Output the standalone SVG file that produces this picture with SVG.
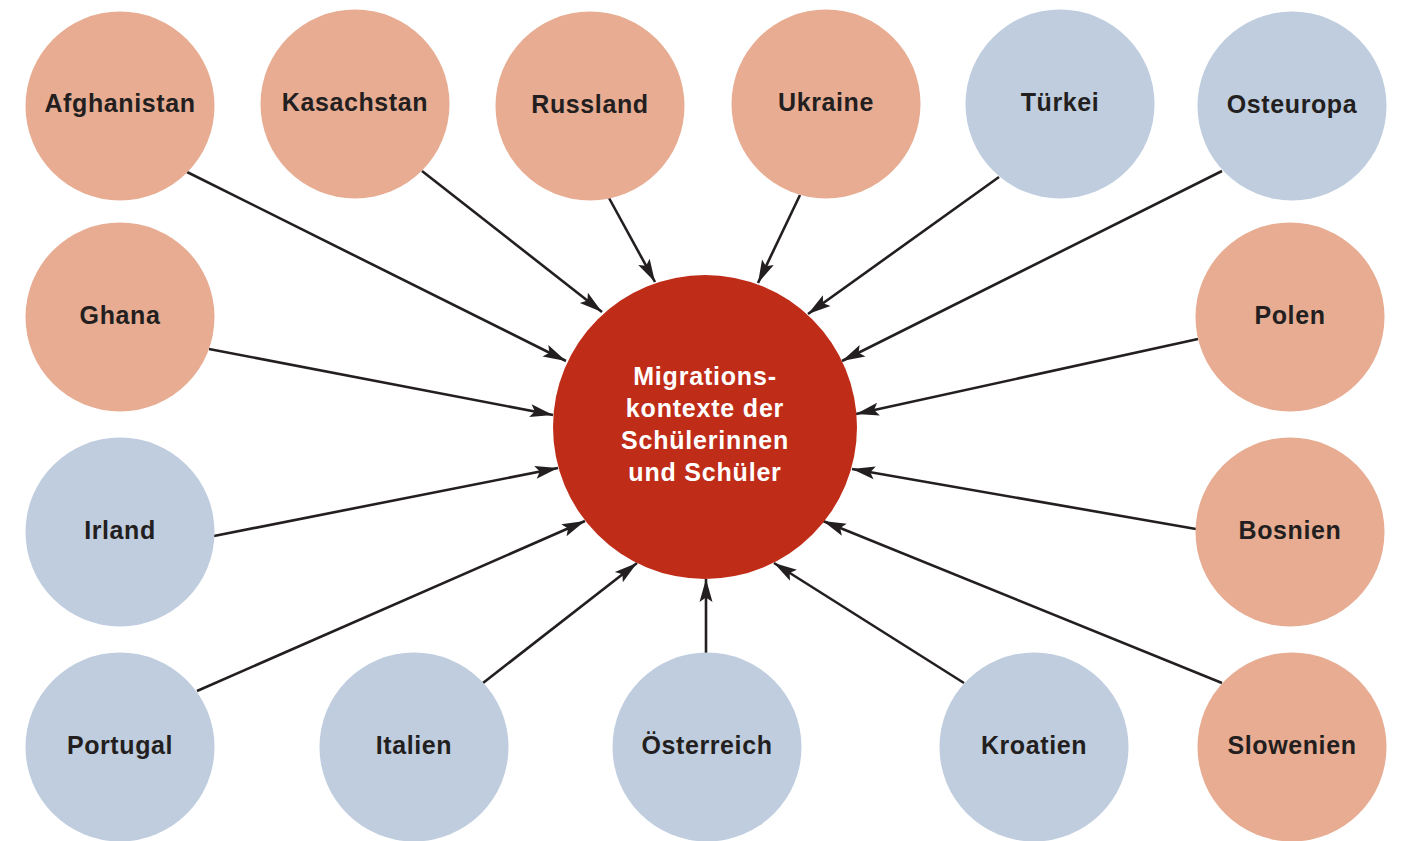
<svg xmlns="http://www.w3.org/2000/svg" width="1401" height="841" viewBox="0 0 1401 841">
<style>
.s{fill:#e7ac92}
.b{fill:#bfcddf}
.c{fill:#bf2d19}
.t{font-family:"Liberation Sans",Arial,Helvetica,sans-serif;font-weight:bold;font-size:25px;letter-spacing:0.6px;fill:#231f20;text-anchor:middle}
.ct{font-family:"Liberation Sans",Arial,Helvetica,sans-serif;font-weight:bold;font-size:25px;letter-spacing:0.8px;fill:#ffffff;text-anchor:middle}
.e{stroke:#231f20;stroke-width:2.6;fill:none;marker-end:url(#ah)}
</style>
<defs>
<marker id="ah" markerUnits="userSpaceOnUse" markerWidth="28" markerHeight="18" viewBox="-25 -9 28 18" refX="0" refY="0" orient="auto">
<path d="M0,0 L-23,-6.5 L-18.5,0 L-23,6.5 Z" fill="#231f20"/>
</marker>
</defs>
<rect width="1401" height="841" fill="#ffffff"/>
<g id="connectors">
<line class="e" x1="187" y1="172" x2="566" y2="361"/>
<line class="e" x1="422" y1="171" x2="602" y2="312"/>
<line class="e" x1="609" y1="198" x2="655" y2="282"/>
<line class="e" x1="800" y1="195" x2="758" y2="283"/>
<line class="e" x1="999" y1="177" x2="808" y2="314"/>
<line class="e" x1="1222" y1="171" x2="842" y2="361"/>
<line class="e" x1="209" y1="349" x2="553" y2="415"/>
<line class="e" x1="1198" y1="339" x2="856" y2="414"/>
<line class="e" x1="214" y1="536" x2="558" y2="468"/>
<line class="e" x1="1196" y1="529" x2="852" y2="469"/>
<line class="e" x1="197" y1="691" x2="585" y2="521"/>
<line class="e" x1="483" y1="683" x2="637" y2="563"/>
<line class="e" x1="706" y1="653" x2="706" y2="579"/>
<line class="e" x1="964" y1="683" x2="774" y2="563"/>
<line class="e" x1="1222" y1="683" x2="823" y2="521"/>
</g>
<g id="center"><circle class="c" cx="705" cy="427" r="152"/>
<text class="ct" x="705" y="385">Migrations-</text>
<text class="ct" x="705" y="417">kontexte der</text>
<text class="ct" x="705" y="449">Schülerinnen</text>
<text class="ct" x="705" y="481">und Schüler</text></g>
<g id="afghanistan"><circle class="s" cx="120" cy="106" r="94.5"/><text class="t" x="120" y="112">Afghanistan</text></g>
<g id="kasachstan"><circle class="s" cx="355" cy="104" r="94.5"/><text class="t" x="355" y="111">Kasachstan</text></g>
<g id="russland"><circle class="s" cx="590" cy="106" r="94.5"/><text class="t" x="590" y="113">Russland</text></g>
<g id="ukraine"><circle class="s" cx="826" cy="104" r="94.5"/><text class="t" x="826" y="111">Ukraine</text></g>
<g id="tuerkei"><circle class="b" cx="1060" cy="104" r="94.5"/><text class="t" x="1060" y="111">Türkei</text></g>
<g id="osteuropa"><circle class="b" cx="1292" cy="106" r="94.5"/><text class="t" x="1292" y="113">Osteuropa</text></g>
<g id="ghana"><circle class="s" cx="120" cy="317" r="94.5"/><text class="t" x="120" y="324">Ghana</text></g>
<g id="polen"><circle class="s" cx="1290" cy="317" r="94.5"/><text class="t" x="1290" y="324">Polen</text></g>
<g id="irland"><circle class="b" cx="120" cy="532" r="94.5"/><text class="t" x="120" y="539">Irland</text></g>
<g id="bosnien"><circle class="s" cx="1290" cy="532" r="94.5"/><text class="t" x="1290" y="539">Bosnien</text></g>
<g id="portugal"><circle class="b" cx="120" cy="747" r="94.5"/><text class="t" x="120" y="754">Portugal</text></g>
<g id="italien"><circle class="b" cx="414" cy="747" r="94.5"/><text class="t" x="414" y="754">Italien</text></g>
<g id="oesterreich"><circle class="b" cx="707" cy="747" r="94.5"/><text class="t" x="707" y="754">Österreich</text></g>
<g id="kroatien"><circle class="b" cx="1034" cy="747" r="94.5"/><text class="t" x="1034" y="754">Kroatien</text></g>
<g id="slowenien"><circle class="s" cx="1292" cy="747" r="94.5"/><text class="t" x="1292" y="754">Slowenien</text></g>
</svg>
